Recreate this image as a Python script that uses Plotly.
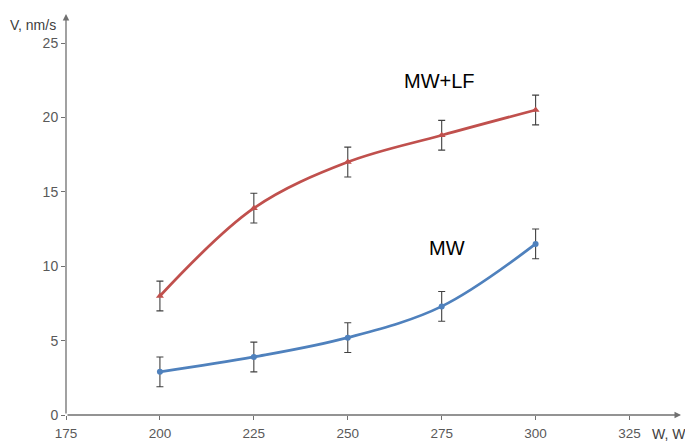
import plotly.graph_objects as go

power = [200, 225, 250, 275, 300]
v_mwlf = [8.0, 13.9, 17.0, 18.8, 20.5]
v_mw = [2.9, 3.9, 5.2, 7.3, 11.5]
err_mwlf = [1.0, 1.0, 1.0, 1.0, 1.0]
err_mw = [1.0, 1.0, 1.0, 1.0, 1.0]
x_ticks = [175, 200, 225, 250, 275, 300, 325]
y_ticks = [0, 5, 10, 15, 20, 25]

font = "Liberation Sans, Arial, sans-serif"
fig = go.Figure()
fig.add_trace(go.Scatter(
    x=power, y=v_mwlf, mode="lines+markers",
    line=dict(color="#C0504D", width=2.75, shape="spline", smoothing=1.0),
    marker=dict(symbol="triangle-up", size=7, color="#C0504D"),
    error_y=dict(type="data", array=err_mwlf, visible=True, color="#404040", thickness=1.1, width=3.5),
    showlegend=False))
fig.add_trace(go.Scatter(
    x=power, y=v_mw, mode="lines+markers",
    line=dict(color="#4F81BD", width=2.75, shape="spline", smoothing=1.0),
    marker=dict(symbol="circle", size=6, color="#4F81BD"),
    error_y=dict(type="data", array=err_mw, visible=True, color="#404040", thickness=1.1, width=3.5),
    showlegend=False))

axis_col = "#707070"
fig.update_layout(
    width=685, height=441,
    margin=dict(l=66, r=4, t=14, b=26, autoexpand=False),
    paper_bgcolor="white", plot_bgcolor="white",
    font=dict(family=font, size=13.5, color="#595959"),
    xaxis=dict(range=[175, 338.7], tickvals=x_ticks, ticks="outside", ticklen=4,
               tickcolor=axis_col, showgrid=False, zeroline=False, showline=False,
               ticklabelstandoff=2, automargin=False,
               tickfont=dict(size=13.5, color="#595959")),
    yaxis=dict(range=[0, 26.95], tickvals=y_ticks, ticks="outside", ticklen=4,
               tickcolor=axis_col, showgrid=False, zeroline=False, showline=False,
               automargin=False,
               tickfont=dict(size=14, color="#595959")),
)
# axis lines with arrows
fig.add_annotation(x=1, y=0, xref="x domain", yref="y domain", ax=0, ay=0,
                   axref="x domain", ayref="y domain",
                   showarrow=True, arrowhead=2, arrowsize=1, arrowwidth=1.3, arrowcolor=axis_col, text="")
fig.add_annotation(x=0, y=1, xref="x domain", yref="y domain", ax=0, ay=0,
                   axref="x domain", ayref="y domain",
                   showarrow=True, arrowhead=2, arrowsize=1, arrowwidth=1.3, arrowcolor=axis_col, text="")

fig.add_annotation(x=0, y=1, xref="paper", yref="paper", xanchor="right", yanchor="middle",
                   xshift=-8, yshift=-11, text="V, nm/s", showarrow=False,
                   font=dict(size=14, color="#404040"))
fig.add_annotation(x=0.949, y=0, xref="paper", yref="paper", xanchor="left", yanchor="middle",
                   yshift=-19, text="W, W", showarrow=False,
                   font=dict(size=14, color="#404040"))
fig.add_annotation(x=274.3, y=22.48, xref="x", yref="y", xanchor="center", yanchor="middle",
                   text="MW+LF", showarrow=False, font=dict(size=20, color="#000000"))
fig.add_annotation(x=276.4, y=11.22, xref="x", yref="y", xanchor="center", yanchor="middle",
                   text="MW", showarrow=False, font=dict(size=20, color="#000000"))

fig.write_html("out.html", config={"displayModeBar": False},
               post_script="document.body.style.margin='0';document.body.style.overflow='hidden';")
